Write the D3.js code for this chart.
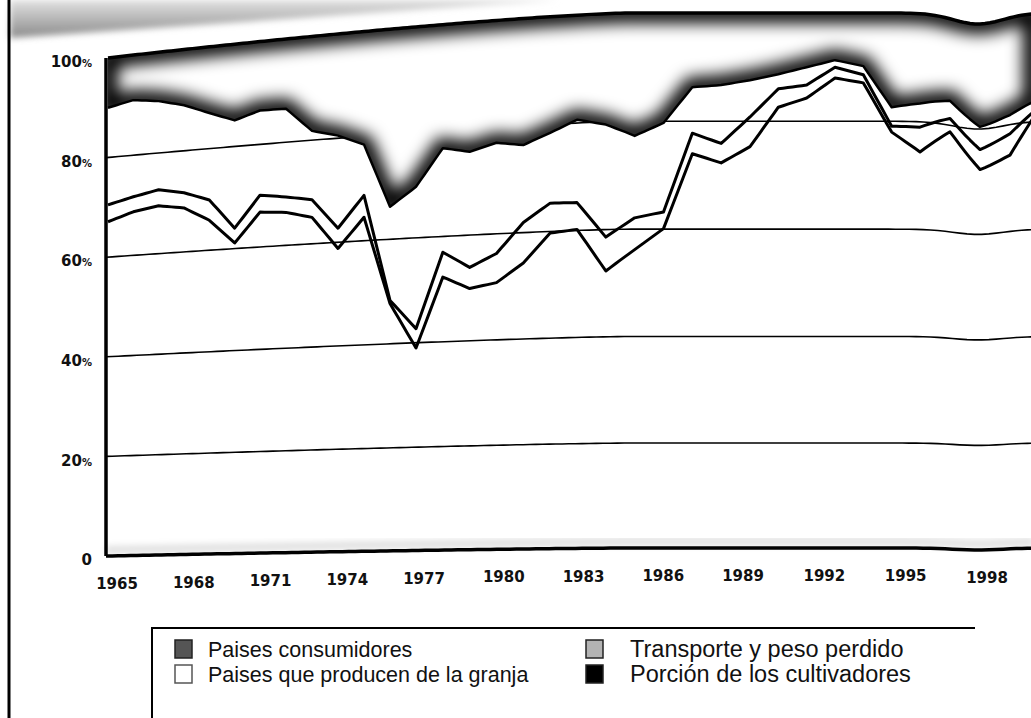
<!DOCTYPE html>
<html>
<head>
<meta charset="utf-8">
<script src="https://cdn.jsdelivr.net/npm/d3@7"></script>
<style>
  body { margin: 0; background: #fff; }
  svg { display: block; }
</style>
</head>
<body>
<script>
// shares of the retail price, % (bottom to top of the stack)
var years = d3.range(1965, 2000);
var producers = [67.1,68.7,69.5,68.7,65.9,61.1,66.8,66.4,65.1,58.8,64.5,47.7,39.0,52.3,49.9,50.8,54.3,59.7,60.2,52.3,56.2,60.1,74.0,72.3,75.3,82.6,84.3,88.0,87.1,78.0,74.4,78.8,72.3,74.3,80.7];
var growers = [3.4,3.0,3.2,3.0,4.0,2.9,3.3,3.0,3.4,3.9,4.2,0.6,3.7,4.7,4.0,5.5,7.6,5.6,5.0,6.3,5.9,3.1,3.8,3.6,5.5,3.4,2.4,2.0,1.5,1.1,4.6,2.5,3.8,4.0,1.1];
var transport = [19.5,19.3,17.6,17.3,17.1,21.1,16.5,17.1,13.3,17.8,9.7,17.9,27.0,19.7,21.8,20.8,14.5,13.1,15.4,20.9,15.2,16.5,8.5,10.8,6.8,2.7,3.3,1.3,1.6,3.5,4.4,3.3,4.3,3.5,1.9];
var consumers = [10.0,9.0,9.7,11.0,13.0,14.9,13.4,13.5,18.2,19.5,21.6,33.8,30.3,23.3,24.3,22.9,23.6,21.6,19.4,20.5,22.7,20.3,13.7,13.3,12.4,11.3,10.0,8.7,9.8,17.4,16.6,15.4,19.6,18.2,16.3];

var yTicks = [0, 20, 40, 60, 80, 100];
var xTicks = [1965, 1968, 1971, 1974, 1977, 1980, 1983, 1986, 1989, 1992, 1995, 1998];

var legendKeys = ["consumers", "transport", "producers", "growers"];
var legendLabels = ["Paises consumidores", "Transporte y peso perdido",
                    "Paises que producen de la granja", "Porción de los cultivadores"];

var w = 1031, h = 718;

var svg = d3.select("body").append("svg")
  .attr("width", w)
  .attr("height", h);

// the printed axis is not evenly spaced (photocopy), hence the extra stops
var x = d3.scaleLinear()
  .domain([1965, 1971, 1977, 1983, 1989, 1995, 1998, 1999])
  .range([108, 260, 416, 577, 750, 920, 1010, 1033]);
var xLabel = d3.scaleLinear()
  .domain([1965, 1977, 1989, 1998])
  .range([117, 424, 743, 987]);
var y = d3.scaleLinear().domain([0, 100]).range([556, 58]);

var color = d3.scaleOrdinal()
  .domain(legendKeys)
  .range(["#555", "#b3b3b3", "#fff", "#000"]);

// the page was curved on the scanner: right half sits higher, dip near the end
function bend(px, v) {
  var t = Math.max(0, Math.min(1, (px - 107) / 520));
  var ramp = 1 - Math.pow(1 - t, 1.3);
  var lift = (8 + 37 * Math.pow(v / 100, 1.2)) * ramp;
  var sag = (2 + 9 * Math.pow(v / 100, 2)) * Math.exp(-Math.pow((px - 978) / 35, 2));
  return y(v) - lift + sag;
}

// add points between the data points so the bend shows on long segments
function dense(pts, n) {
  var out = [];
  for (var i = 0; i < pts.length - 1; i++) {
    for (var k = 0; k < n; k++) {
      var f = k / n;
      out.push(pts[i].map(function (a, j) { return a + (pts[i + 1][j] - a) * f; }));
    }
  }
  out.push(pts[pts.length - 1]);
  return out;
}

var line = d3.line();
function bentLine(pts, n) {
  return line(dense(pts, n).map(function (p) {
    var px = x(p[0]);
    return [px, bend(px, p[1])];
  }));
}

var table = years.map(function (yr, i) {
  return { year: yr, producers: producers[i], growers: growers[i],
           transport: transport[i], consumers: consumers[i] };
});
var series = d3.stack()
  .keys(["producers", "growers", "transport", "consumers"])(table);

var defs = svg.append("defs");
defs.append("filter").attr("id", "soft")
  .attr("x", "-10%").attr("y", "-40%").attr("width", "120%").attr("height", "180%")
  .append("feGaussianBlur").attr("stdDeviation", 8);
defs.append("filter").attr("id", "softer")
  .attr("x", "-10%").attr("y", "-40%").attr("width", "120%").attr("height", "180%")
  .append("feGaussianBlur").attr("stdDeviation", 3);

var shade = defs.append("linearGradient").attr("id", "cornerShade")
  .attr("x1", 0).attr("y1", 0).attr("x2", 0).attr("y2", 1);
shade.append("stop").attr("offset", "0%").attr("stop-color", "#e2e2e2");
shade.append("stop").attr("offset", "100%").attr("stop-color", "#8a8a8a");

// grey strip left over from the box above the chart
svg.append("path")
  .attr("d", "M10,0L560,0L10,38Z")
  .attr("fill", "url(#cornerShade)")
  .attr("filter", "url(#softer)");

// left border of the page
svg.append("line")
  .attr("x1", 9).attr("x2", 9).attr("y1", 0).attr("y2", h)
  .attr("stroke", "#000").attr("stroke-width", 3);

// grid
var gx0 = x.invert(106);
svg.append("g").selectAll("path")
  .data([20, 40, 60, 80])
  .enter().append("path")
  .attr("d", function (v) { return bentLine([[gx0, v], [1999, v]], 140); })
  .attr("fill", "none")
  .attr("stroke", "#000")
  .attr("stroke-width", 1.6);

// faint shadow above the baseline
svg.append("path")
  .attr("d", bentLine([[gx0, 1.2], [1999, 1.2]], 140))
  .attr("fill", "none")
  .attr("stroke", "#000")
  .attr("stroke-opacity", 0.12)
  .attr("stroke-width", 8)
  .attr("filter", "url(#softer)");

// top band (consumers), drawn white with a dark rim as on the scan
var band = series[3].map(function (d) { return [d.data.year, d[0], d[1]]; });
var bandPts = dense(band, 6).map(function (p) {
  var px = x(p[0]);
  return { x: px, y0: bend(px, p[1]), y1: bend(px, p[2]) };
});
var bandArea = d3.area()
  .x(function (d) { return d.x; })
  .y0(function (d) { return d.y0; })
  .y1(function (d) { return d.y1; });

defs.append("clipPath").attr("id", "bandClip")
  .append("path").attr("d", bandArea(bandPts));

var bandG = svg.append("g").attr("clip-path", "url(#bandClip)");
bandG.append("path")
  .attr("d", bandArea(bandPts))
  .attr("fill", "#fff");
bandG.append("path")
  .attr("d", bandArea(bandPts))
  .attr("fill", "none")
  .attr("stroke", "#000")
  .attr("stroke-width", 20)
  .attr("filter", "url(#soft)");

// y axis
svg.append("path")
  .attr("d", bentLine([[gx0, 0], [gx0, 100]], 4))
  .attr("stroke", "#000")
  .attr("stroke-width", 3.5);

// crisp edges of the band
svg.append("path")
  .attr("d", bentLine(band.map(function (d) { return [d[0], d[2]]; }), 6))
  .attr("fill", "none").attr("stroke", "#000").attr("stroke-width", 3.5);
svg.append("path")
  .attr("d", bentLine(band.map(function (d) { return [d[0], d[1]]; }), 6))
  .attr("fill", "none").attr("stroke", "#000").attr("stroke-width", 2.5)
  .attr("stroke-linejoin", "round");

// boundaries of the lower layers
svg.append("g").selectAll("path")
  .data([series[0], series[1]])
  .enter().append("path")
  .attr("d", function (s) {
    return bentLine(s.map(function (d) { return [d.data.year, d[1]]; }), 6);
  })
  .attr("fill", "none")
  .attr("stroke", "#000")
  .attr("stroke-width", 3)
  .attr("stroke-linejoin", "round");

// x axis
svg.append("path")
  .attr("d", bentLine([[gx0, 0], [1999, 0]], 140))
  .attr("fill", "none")
  .attr("stroke", "#000")
  .attr("stroke-width", 3.5);

// tick labels
var yLab = svg.append("g").selectAll("text")
  .data(yTicks)
  .enter().append("text")
  .attr("x", 92)
  .attr("y", function (v) { return y(v) + 4; })
  .attr("dy", "0.35em")
  .attr("text-anchor", "end")
  .style("font-family", "'DejaVu Sans', sans-serif")
  .style("font-weight", "bold")
  .style("font-size", "15px")
  .style("fill", "#111");
yLab.append("tspan").text(function (v) { return v; });
yLab.append("tspan")
  .style("font-size", "10px")
  .text(function (v) { return v ? "%" : ""; });

svg.append("g").selectAll("text")
  .data(xTicks)
  .enter().append("text")
  .attr("x", function (d) { return xLabel(d); })
  .attr("y", function (d) { return bend(xLabel(d), 0) + 28; })
  .attr("dy", "0.35em")
  .attr("text-anchor", "middle")
  .style("font-family", "'DejaVu Sans', sans-serif")
  .style("font-weight", "bold")
  .style("font-size", "15px")
  .style("fill", "#111")
  .text(function (d) { return d; });

// legend
var lg = svg.append("g");
lg.append("path")
  .attr("d", "M152," + h + "L152,628L975,628")
  .attr("fill", "none")
  .attr("stroke", "#000")
  .attr("stroke-width", 2);

var cols = [175, 586], rows = [657, 682];
var textX = [33, 44], textSize = ["21.5px", "23.5px"];
var items = lg.selectAll(".item")
  .data(legendKeys)
  .enter().append("g")
  .attr("class", "item")
  .attr("transform", function (d, i) {
    return "translate(" + cols[i % 2] + "," + rows[Math.floor(i / 2)] + ")";
  });
items.append("rect")
  .attr("x", 0).attr("y", -17)
  .attr("width", 17).attr("height", 18)
  .attr("fill", function (d) { return color(d); })
  .attr("stroke", function (d) { return d === "producers" ? "#555" : "#222"; })
  .attr("stroke-width", 1.5);
items.append("text")
  .attr("x", function (d, i) { return textX[i % 2]; })
  .attr("y", 0)
  .style("font-family", "'Liberation Sans', Arial, sans-serif")
  .style("font-size", function (d, i) { return textSize[i % 2]; })
  .style("fill", "#111")
  .text(function (d, i) { return legendLabels[i]; });
</script>
</body>
</html>
